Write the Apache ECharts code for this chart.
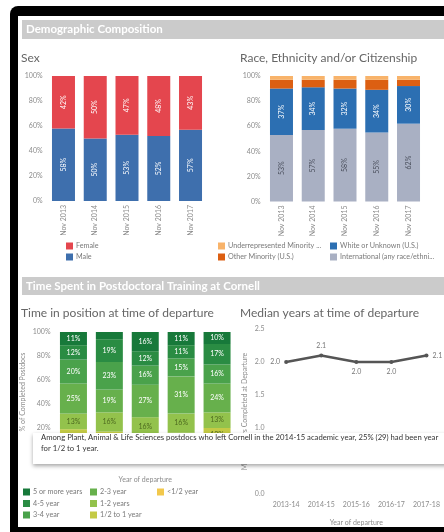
<!DOCTYPE html>
<html>
<head>
<meta charset="utf-8">
<script src="https://cdn.jsdelivr.net/npm/echarts@6/dist/echarts.min.js"></script>
<style>
  html, body { margin: 0; padding: 0; background: #fff; overflow: hidden; }
  #wrap { position: relative; width: 444px; height: 532px; overflow: hidden; }
  #frame { position: absolute; left: 10px; top: 6px; width: 500px; height: 600px; background: #000; border-radius: 8px; }
  #inner { position: absolute; left: 18px; top: 16px; width: 500px; height: 511px; background: #fff; }
  #c { position: absolute; left: 0; top: 0; width: 444px; height: 532px; }
</style>
</head>
<body>
<div id="wrap">
  <div id="frame"></div>
  <div id="inner"></div>
  <div id="c"></div>
</div>
<script>
// ---- data ----
const snapshotYears = ['Nov 2013', 'Nov 2014', 'Nov 2015', 'Nov 2016', 'Nov 2017'];

const sexNames = ['Female', 'Male'];
const female = [42, 50, 47, 48, 43];
const male = [58, 50, 53, 52, 57];

const raceNames = [
  'Underrepresented Minority (U.S.)',
  'Other Minority (U.S.)',
  'White or Unknown (U.S.)',
  'International (any race/ethnicity)'
];
const underrep = [3, 3, 3, 3, 3];
const otherMinority = [7, 6, 7, 8, 5];
const whiteUnknown = [37, 34, 32, 34, 30];
const international = [53, 57, 58, 55, 62];

const departureYears = ['2013-14', '2014-15', '2015-16', '2016-17', '2017-18'];
const tenureNames = ['5 or more years', '4-5 year', '3-4 year', '2-3 year', '1-2 years', '1/2 to 1 year', '<1/2 year'];
const fivePlus = [11, 6, 16, 11, 10];
const fourToFive = [12, 19, 12, 11, 17];
const threeToFour = [20, 23, 16, 15, 16];
const twoToThree = [25, 19, 27, 31, 24];
const oneToTwo = [13, 16, 16, 16, 13];
const halfToOne = [12, 11, 8, 10, 12];
const underHalf = [7, 6, 5, 6, 8];

const medianYears = [2.0, 2.1, 2.0, 2.0, 2.1];

const pctTicks = ['0%', '20%', '40%', '60%', '80%', '100%'];

// ---- styling ----
const FONT = 'Lato, "Open Sans", sans-serif';
const AXIS_TXT = '#8c8c8c';
const sexColors = ['#e4464e', '#3e6fad'];
const raceColors = ['#f8b36a', '#dc5f12', '#2c6fb2', '#a9b0c3'];
const tenureColors = ['#17793a', '#2a8c43', '#4aa24b', '#67b04c', '#93c24c', '#c4ca45', '#f2c84c'];

function pctAxis(gridIndex) {
  return {
    type: 'value', gridIndex, min: 0, max: 100, interval: 20,
    axisLine: { show: false }, axisTick: { show: false }, splitLine: { show: false },
    axisLabel: { fontSize: 7, color: AXIS_TXT, fontFamily: FONT, margin: 5,
      formatter: v => pctTicks[Math.round(v / 20)] }
  };
}
function catAxis(gridIndex, data, rotate) {
  return {
    type: 'category', gridIndex, data,
    axisLine: { show: false }, axisTick: { show: false },
    axisLabel: { fontSize: 7, color: AXIS_TXT, fontFamily: FONT, rotate: rotate, margin: 4 }
  };
}
function pctLabel(color, rotate, minShow) {
  return {
    show: true, position: 'inside', rotate: rotate, color: color,
    fontSize: 7, fontFamily: FONT,
    formatter: p => (p.value >= minShow ? p.value + '%' : '')
  };
}

// stacked series builders
const sexSeries = [male, female].map((vals, i) => ({
  type: 'bar', name: sexNames[1 - i], xAxisIndex: 0, yAxisIndex: 0, stack: 'sex',
  data: vals, barWidth: 23, itemStyle: { color: sexColors[1 - i] },
  label: pctLabel('#fff', 90, 20)
}));

const raceStack = [international, whiteUnknown, otherMinority, underrep];
const raceSeries = raceStack.map((vals, i) => ({
  type: 'bar', name: raceNames[3 - i], xAxisIndex: 1, yAxisIndex: 1, stack: 'race',
  data: vals, barWidth: 23, itemStyle: { color: raceColors[3 - i] },
  label: pctLabel(i === 0 ? '#4a4f5c' : '#fff', 90, i < 2 ? 20 : 999)
}));

const tenureStack = [underHalf, halfToOne, oneToTwo, twoToThree, threeToFour, fourToFive, fivePlus];
const tenureSeries = tenureStack.map((vals, i) => {
  const k = 6 - i;
  return {
    type: 'bar', name: tenureNames[k], xAxisIndex: 2, yAxisIndex: 2, stack: 'tenure',
    data: vals, barWidth: 27, itemStyle: { color: tenureColors[k] },
    label: pctLabel(k <= 3 ? '#ffffff' : '#4d6a1f', 0, 9)
  };
});

const labelPos = ['left', 'top', 'bottom', 'bottom', 'right'];
const medianSeries = {
  type: 'line', name: 'Median years', xAxisIndex: 3, yAxisIndex: 3,
  data: medianYears.map((v, i) => ({ value: v, label: { position: labelPos[i] } })),
  symbol: 'circle', symbolSize: 4,
  lineStyle: { color: '#555', width: 2.5 }, itemStyle: { color: '#555' },
  label: { show: true, fontSize: 7, color: '#777', fontFamily: FONT, distance: 4,
    formatter: p => p.value.toFixed(1) }
};

// ---- decorations: headers, titles, legends, hover note ----
const g = [];
function header(y, h, txt) {
  g.push({ type: 'rect', z: 2, shape: { x: 22, y: y, width: 440, height: h }, style: { fill: '#cbcbcb' } });
  g.push({ type: 'text', z: 3, x: 26, y: y + h / 2, style: { text: txt, fill: '#fff', font: 'bold 11.5px ' + FONT, verticalAlign: 'middle' } });
}
header(20, 19, 'Demographic Composition');
header(277, 18, 'Time Spent in Postdoctoral Training at Cornell');

function title(x, y, txt) {
  g.push({ type: 'text', z: 3, x: x, y: y, style: { text: txt, fill: '#666', font: '12px ' + FONT, verticalAlign: 'middle' } });
}
title(21, 58, 'Sex');
title(240, 58, 'Race, Ethnicity and/or Citizenship');
title(21, 313, 'Time in position at time of departure');
title(240, 313, 'Median years at time of departure');

function legendItem(x, y, color, txt, w) {
  g.push({ type: 'rect', z: 3, shape: { x: x, y: y - 3.5, width: 7, height: 7 }, style: { fill: color } });
  g.push({ type: 'text', z: 3, x: x + 10, y: y, style: { text: txt, fill: '#7a7a7a', font: '7.2px ' + FONT, verticalAlign: 'middle', width: w, overflow: 'truncate', ellipsis: '...' } });
}
legendItem(66, 246, sexColors[0], sexNames[0], 100);
legendItem(66, 257, sexColors[1], sexNames[1], 100);
legendItem(218, 246, raceColors[0], raceNames[0], 96);
legendItem(218, 257, raceColors[1], raceNames[1], 96);
legendItem(330, 246, raceColors[2], raceNames[2], 96);
legendItem(330, 257, raceColors[3], raceNames[3], 96);
const legCols = [23, 90, 157];
tenureNames.forEach((n, i) => {
  const col = i < 3 ? 0 : (i < 6 ? 1 : 2);
  const row = i < 3 ? i : (i < 6 ? i - 3 : 0);
  legendItem(legCols[col], 492 + row * 11.5, tenureColors[i], n, 80);
});

// hover note over the lower charts
g.push({ type: 'rect', z: 20, shape: { x: 33, y: 433, width: 430, height: 31 },
  style: { fill: '#fff', shadowBlur: 4, shadowOffsetY: 2, shadowColor: 'rgba(0,0,0,0.35)' } });
g.push({ type: 'text', z: 21, x: 41, y: 443, style: {
  text: 'Among Plant, Animal & Life Sciences postdocs who left Cornell in the 2014-15 academic year, 25% (29) had been year\nfor 1/2 to 1 year.',
  fill: '#333', font: '7.7px ' + FONT, verticalAlign: 'middle', lineHeight: 10.5 } });

// ---- chart ----
const chart = echarts.init(document.getElementById('c'), null, { renderer: 'canvas' });
chart.setOption({
  backgroundColor: 'transparent',
  animation: false,
  textStyle: { fontFamily: FONT },
  grid: [
    { left: 47.6, top: 76, width: 158.8, height: 125 },
    { left: 265.6, top: 76, width: 158.8, height: 125.5 },
    { left: 55.5, top: 332, width: 179.5, height: 120 },
    { left: 268.6, top: 329, width: 183.5, height: 165 }
  ],
  xAxis: [
    catAxis(0, snapshotYears, 90),
    catAxis(1, snapshotYears, 90),
    Object.assign(catAxis(2, departureYears, 0), { name: 'Year of departure', nameLocation: 'middle', nameGap: 24,
      nameTextStyle: { fontSize: 7, color: AXIS_TXT, fontFamily: FONT } }),
    Object.assign(catAxis(3, departureYears, 0), { name: 'Year of departure', nameLocation: 'middle', nameGap: 25,
      nameTextStyle: { fontSize: 7, color: AXIS_TXT, fontFamily: FONT }, axisLabel: { fontSize: 7, color: AXIS_TXT, fontFamily: FONT, margin: 7 } })
  ],
  yAxis: [
    pctAxis(0),
    pctAxis(1),
    Object.assign(pctAxis(2), { name: '% of Completed Postdocs', nameLocation: 'middle', nameGap: 29,
      nameTextStyle: { fontSize: 7, color: AXIS_TXT, fontFamily: FONT } }),
    { type: 'value', gridIndex: 3, min: 0, max: 2.5, interval: 0.5,
      axisLine: { show: false }, axisTick: { show: false }, splitLine: { show: false },
      axisLabel: { fontSize: 7, color: AXIS_TXT, fontFamily: FONT, margin: 4, formatter: v => v.toFixed(1) },
      name: 'Median Years Completed at Departure', nameLocation: 'middle', nameGap: 20,
      nameTextStyle: { fontSize: 7, color: AXIS_TXT, fontFamily: FONT } }
  ],
  series: [].concat(sexSeries, raceSeries, tenureSeries, [medianSeries]),
  graphic: { elements: g }
});
</script>
</body>
</html>
